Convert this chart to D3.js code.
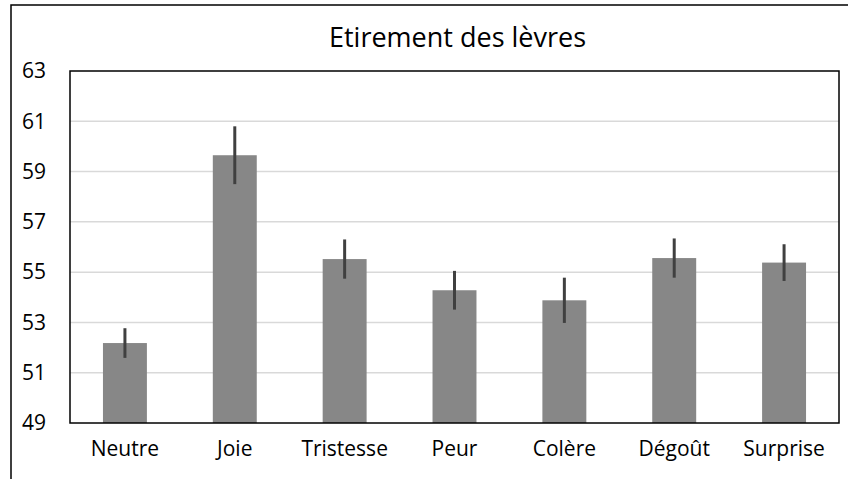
<!DOCTYPE html>
<html>
<head>
<meta charset="utf-8">
<script src="https://cdn.jsdelivr.net/npm/d3@7"></script>
<style>
  body { margin: 0; background: #fff; }
  svg { display: block; font-family: "Open Sans", sans-serif; }
</style>
</head>
<body>
<div id="chart"></div>
<script>
const categories = ["Neutre", "Joie", "Tristesse", "Peur", "Colère", "Dégoût", "Surprise"];
const means = [52.18, 59.65, 55.52, 54.28, 53.88, 55.56, 55.38];
const errors = [0.59, 1.15, 0.78, 0.77, 0.9, 0.78, 0.73];
const yTicks = [49, 51, 53, 55, 57, 59, 61, 63];
const title = "Etirement des lèvres";

const width = 848, height = 479,
    margin = ({ top: 71, right: 9, bottom: 56, left: 70 });

const svg = d3.select("#chart")
    .append("svg")
    .attr("width", width)
    .attr("height", height);

// outer frame (right/bottom sit off the picture)
svg.append("rect")
    .attr("x", 11).attr("y", 5)
    .attr("width", width).attr("height", height)
    .attr("fill", "none")
    .attr("stroke", "#000")
    .attr("stroke-width", 1.5);

let data = categories.map((c, i) => ({ name: c, value: means[i], err: errors[i] }));

let x = d3.scaleBand()
    .domain(categories)
    .range([margin.left, width - margin.right])
    .paddingInner(0.6)
    .paddingOuter(0.3);

let y = d3.scaleLinear()
    .domain([49, 63])
    .range([height - margin.bottom, margin.top]);

// gridlines
svg.append("g")
    .selectAll("line")
    .data(yTicks.slice(1, -1))
    .join("line")
    .attr("x1", margin.left).attr("x2", width - margin.right)
    .attr("y1", d => y(d)).attr("y2", d => y(d))
    .attr("stroke", "#d9d9d9")
    .attr("stroke-width", 1.5);

// y axis labels
svg.append("g")
    .attr("transform", `translate(${margin.left},0)`)
    .call(d3.axisLeft(y).tickValues(yTicks).tickSize(0).tickPadding(24))
    .call(g => g.select(".domain").remove())
    .call(g => g.selectAll("text")
        .attr("font-family", "Open Sans, sans-serif")
        .attr("font-size", 21)
        .attr("fill", "#000"));

// bars
svg.append("g")
    .selectAll("rect")
    .data(data)
    .join("rect")
    .attr("x", d => x(d.name))
    .attr("y", d => y(d.value))
    .attr("width", x.bandwidth())
    .attr("height", d => y(49) - y(d.value))
    .attr("fill", "#878787");

// error bars
svg.append("g")
    .selectAll("line")
    .data(data)
    .join("line")
    .attr("x1", d => x(d.name) + x.bandwidth() / 2)
    .attr("x2", d => x(d.name) + x.bandwidth() / 2)
    .attr("y1", d => y(d.value + d.err))
    .attr("y2", d => y(d.value - d.err))
    .attr("stroke", "#404040")
    .attr("stroke-width", 3);

// plot frame
svg.append("rect")
    .attr("x", margin.left).attr("y", margin.top)
    .attr("width", width - margin.right - margin.left)
    .attr("height", height - margin.bottom - margin.top)
    .attr("fill", "none")
    .attr("stroke", "#000")
    .attr("stroke-width", 1.5);

// x axis labels
svg.append("g")
    .attr("transform", `translate(0,${height - margin.bottom})`)
    .call(d3.axisBottom(x).tickSize(0).tickPadding(18))
    .call(g => g.select(".domain").remove())
    .call(g => g.selectAll("text")
        .attr("font-family", "Open Sans, sans-serif")
        .attr("font-size", 21)
        .attr("fill", "#000"));

svg.append("text")
    .attr("x", (margin.left + width - margin.right) / 2 + 3)
    .attr("y", 47)
    .attr("text-anchor", "middle")
    .attr("font-size", 27)
    .attr("fill", "#000")
    .text(title);
</script>
</body>
</html>
